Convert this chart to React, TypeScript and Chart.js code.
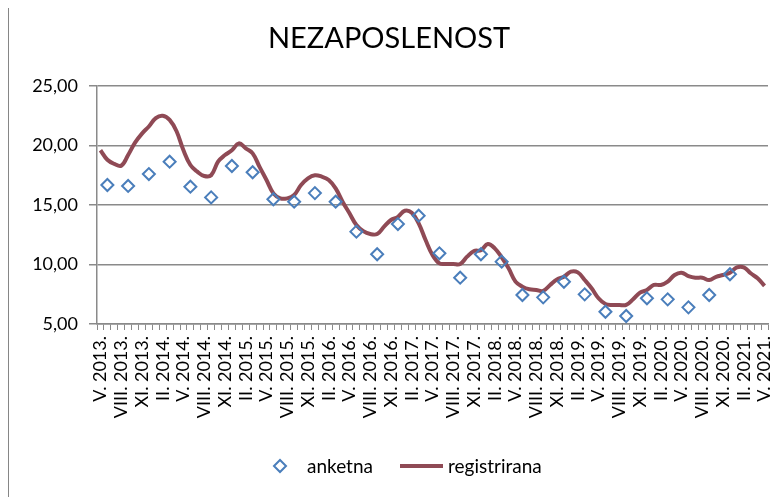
import React, { useEffect, useRef } from 'react';
import { Chart, registerables } from 'chart.js';

Chart.register(...registerables);

const TITLE = 'NEZAPOSLENOST';
const ROMAN = ['I', 'II', 'III', 'IV', 'V', 'VI', 'VII', 'VIII', 'IX', 'X', 'XI', 'XII'];
const START_YEAR = 2013;
const START_MONTH = 5;
const MONTH_COUNT = 97;
const LABEL_EVERY = 3;

const months: string[] = [];
for (let k = 0; k < MONTH_COUNT; k++) {
  const m = (START_MONTH - 1 + k) % 12;
  const y = START_YEAR + Math.floor((START_MONTH - 1 + k) / 12);
  months.push(`${ROMAN[m]}. ${y}.`);
}

const registrirana = [
  19.6, 18.8, 18.45, 18.3, 19.2, 20.24, 21.0, 21.6, 22.3, 22.5,
  22.15, 21.2, 19.6, 18.36, 17.8, 17.44, 17.5, 18.64, 19.2, 19.6,
  20.18, 19.76, 19.34, 18.2, 17.1, 15.98, 15.56, 15.56, 15.84, 16.68,
  17.24, 17.5, 17.38, 17.1, 16.4, 15.28, 14.3, 13.32, 12.8, 12.56,
  12.56, 13.18, 13.74, 14.0, 14.52, 14.35, 13.46, 12.06, 10.8, 10.1,
  10.04, 10.04, 10.04, 10.66, 11.13, 11.2, 11.72, 11.36, 10.6, 9.68,
  8.56, 8.14, 7.92, 7.86, 7.78, 8.28, 8.75, 8.97, 9.4, 9.34,
  8.7, 8.0, 7.16, 6.68, 6.6, 6.6, 6.6, 7.08, 7.63, 7.86,
  8.28, 8.28, 8.56, 9.12, 9.31, 9.03, 8.89, 8.89, 8.7, 8.97,
  9.12, 9.31, 9.76, 9.76, 9.26, 8.84, 8.2,
];

// quarterly survey values, first at month index 1, then every 3 months
const ANKETNA_FIRST = 1;
const ANKETNA_STEP = 3;
const anketna = [
  16.68, 16.6, 17.6, 18.64, 16.54, 15.64, 18.28, 17.75,
  15.48, 15.28, 16.0, 15.28, 12.76, 10.86, 13.4, 14.1,
  10.94, 8.89, 10.86, 10.24, 7.44, 7.24, 8.55, 7.49,
  6.03, 5.67, 7.16, 7.07, 6.4, 7.44, 9.18,
];

const Y_MIN = 5;
const Y_MAX = 25;
const Y_STEP = 5;

const BLUE = '#4a7ebb';
const RED = '#8f4a55';
const GRID = '#8a8a8a';
const FONT = 'Lato, "Open Sans", sans-serif';

const anketnaFull: (number | null)[] = months.map(() => null);
anketna.forEach((v, k) => {
  anketnaFull[ANKETNA_FIRST + k * ANKETNA_STEP] = v;
});

const overlayPlugin = {
  id: 'overlay',
  afterDraw(chart: any) {
    const ctx = chart.ctx as CanvasRenderingContext2D;
    ctx.save();
    // title
    ctx.fillStyle = '#000';
    ctx.font = `29px ${FONT}`;
    ctx.textAlign = 'center';
    ctx.textBaseline = 'middle';
    ctx.fillText(TITLE, 380, 33);

    // legend
    const ly = 460;
    ctx.font = `19px ${FONT}`;
    ctx.textAlign = 'left';
    ctx.strokeStyle = BLUE;
    ctx.lineWidth = 2;
    ctx.fillStyle = '#fff';
    const cx = 271;
    const r = 6;
    ctx.beginPath();
    ctx.moveTo(cx - r, ly);
    ctx.lineTo(cx, ly - r);
    ctx.lineTo(cx + r, ly);
    ctx.lineTo(cx, ly + r);
    ctx.closePath();
    ctx.fill();
    ctx.stroke();
    ctx.fillStyle = '#000';
    ctx.fillText('anketna', 298, ly + 1);

    ctx.strokeStyle = RED;
    ctx.lineWidth = 4;
    ctx.beginPath();
    ctx.moveTo(391, ly);
    ctx.lineTo(434, ly);
    ctx.stroke();
    ctx.fillStyle = '#000';
    ctx.fillText('registrirana', 439, ly + 1);
    ctx.restore();
  },
};

export default function App() {
  const ref = useRef<HTMLCanvasElement | null>(null);

  useEffect(() => {
    let chart: Chart | null = null;
    let cancelled = false;
    const make = () => {
      if (cancelled || !ref.current) return;
      chart = new Chart(ref.current, {
        type: 'line',
        data: {
          labels: months,
          datasets: [
            {
              label: 'anketna',
              data: anketnaFull,
              showLine: false,
              pointStyle: 'rectRot',
              pointRadius: 6,
              pointBorderWidth: 2,
              pointBorderColor: BLUE,
              pointBackgroundColor: 'rgba(255,255,255,0)',
              borderColor: BLUE,
              backgroundColor: 'rgba(255,255,255,0)',
              order: 0,
            },
            {
              label: 'registrirana',
              data: registrirana,
              borderColor: RED,
              borderWidth: 4,
              pointRadius: 0,
              tension: 0.4,
              fill: false,
              order: 1,
            },
          ],
        },
        options: {
          responsive: false,
          animation: false,
          events: [],
          layout: { padding: { top: 80, right: 13, bottom: 0, left: 0 } },
          plugins: {
            legend: { display: false },
            title: { display: false },
            tooltip: { enabled: false },
          },
          scales: {
            x: {
              type: 'category',
              offset: true,
              afterFit(scale: any) {
                scale.height = 173;
                scale.paddingLeft = 0;
                scale.paddingRight = 0;
              },
              grid: {
                display: true,
                offset: true,
                drawOnChartArea: false,
                drawTicks: true,
                tickLength: 6,
                color: GRID,
                lineWidth: 1,
              },
              border: { display: true, color: GRID, width: 1.5 },
              ticks: {
                autoSkip: false,
                minRotation: 90,
                maxRotation: 90,
                padding: 6,
                color: '#000',
                font: { family: FONT, size: 18 },
                callback: (_v: any, i: number) => (i % LABEL_EVERY === 0 ? months[i] : ''),
              },
            },
            y: {
              min: Y_MIN,
              max: Y_MAX,
              afterFit(scale: any) {
                scale.width = 88;
                scale.paddingTop = 0;
                scale.paddingBottom = 0;
              },
              grid: {
                color: GRID,
                lineWidth: 1.5,
                drawTicks: true,
                tickLength: 8,
              },
              border: { display: true, color: GRID, width: 1.5 },
              ticks: {
                stepSize: Y_STEP,
                padding: 11,
                color: '#000',
                font: { family: FONT, size: 18 },
                callback: (v: any) => Number(v).toFixed(2).replace('.', ','),
              },
            },
          },
        },
        plugins: [overlayPlugin],
      });
    };
    const fonts: any = (document as any).fonts;
    if (fonts && fonts.load) {
      Promise.all([fonts.load(`18px Lato`), fonts.load(`29px Lato`)]).then(make, make);
    } else {
      make();
    }
    return () => {
      cancelled = true;
      if (chart) chart.destroy();
    };
  }, []);

  return (
    <div
      style={{
        position: 'relative',
        top: -3,
        width: 772,
        height: 491,
        borderLeft: '1px solid #868686',
        borderTop: '1px solid #868686',
        background: '#fff',
      }}
    >
      <canvas ref={ref} width={772} height={491} style={{ display: 'block' }} />
    </div>
  );
}
